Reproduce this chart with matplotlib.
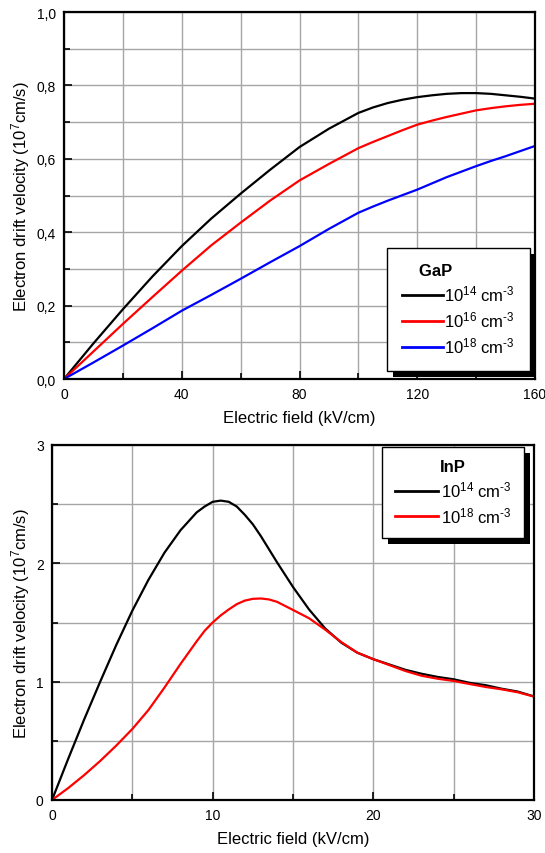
import matplotlib
matplotlib.use("Agg")
import matplotlib.pyplot as plt
from matplotlib.ticker import MultipleLocator, FuncFormatter
from matplotlib.patches import Rectangle
from matplotlib.transforms import IdentityTransform

plt.rcParams['font.family'] = ['Liberation Sans', 'DejaVu Sans']
plt.rcParams['mathtext.fontset'] = 'custom'
plt.rcParams['mathtext.rm'] = 'Liberation Sans'
plt.rcParams['mathtext.default'] = 'regular'

# GaP: drift velocity (1e7 cm/s) vs field (kV/cm)
gap_field = [0, 10, 20, 30, 40, 50, 60, 70, 80, 90, 100, 105, 110, 115, 120, 125,
             130, 135, 140, 145, 150, 155, 160]
gap_1e14 = [0, 0.097, 0.190, 0.279, 0.362, 0.437, 0.505, 0.570, 0.632, 0.682,
            0.725, 0.740, 0.752, 0.761, 0.768, 0.773, 0.777, 0.779, 0.779, 0.777,
            0.773, 0.769, 0.764]
gap_1e16 = [0, 0.075, 0.150, 0.223, 0.295, 0.364, 0.426, 0.486, 0.541, 0.586,
            0.629, 0.646, 0.662, 0.678, 0.693, 0.704, 0.714, 0.723, 0.732, 0.738,
            0.743, 0.747, 0.750]
gap_1e18 = [0, 0.045, 0.091, 0.138, 0.186, 0.229, 0.273, 0.318, 0.362, 0.409,
            0.453, 0.470, 0.486, 0.501, 0.516, 0.533, 0.550, 0.565, 0.580, 0.594,
            0.607, 0.621, 0.635]

# InP: drift velocity (1e7 cm/s) vs field (kV/cm)
inp_field = [0, 1, 2, 3, 4, 5, 6, 7, 8, 9, 9.5, 10, 10.5, 11, 11.5, 12, 12.5, 13,
             13.5, 14, 15, 16, 17, 18, 19, 20, 21, 22, 23, 24, 25, 26, 27, 28, 29, 30]
inp_1e14 = [0, 0.345, 0.68, 1.00, 1.31, 1.60, 1.86, 2.09, 2.28, 2.43, 2.48, 2.52,
            2.53, 2.52, 2.48, 2.41, 2.33, 2.23, 2.12, 2.01, 1.80, 1.61, 1.45, 1.33,
            1.245, 1.19, 1.145, 1.10, 1.067, 1.04, 1.02, 0.99, 0.97, 0.94, 0.916, 0.875]
inp_1e18 = [0, 0.10, 0.21, 0.33, 0.46, 0.60, 0.76, 0.95, 1.15, 1.34, 1.43, 1.50,
            1.56, 1.61, 1.655, 1.685, 1.700, 1.703, 1.695, 1.675, 1.606, 1.536, 1.44,
            1.335, 1.245, 1.19, 1.14, 1.09, 1.05, 1.025, 1.006, 0.98, 0.955, 0.935,
            0.91, 0.874]

W, H = 545, 854
fig = plt.figure(figsize=(W / 100, H / 100), dpi=100)


def px_axes(left, top, right, bottom):
    return fig.add_axes([left / W, 1 - bottom / H, (right - left) / W, (bottom - top) / H])


def style(ax):
    for s in ax.spines.values():
        s.set_linewidth(1.6)
        s.set_color('black')
    ax.tick_params(which='both', direction='in', labelsize=10, width=1.2)
    ax.tick_params(which='major', length=6, pad=6)
    ax.tick_params(which='minor', length=4)
    ax.grid(True, which='both', color='#a6a6a6', linewidth=1.0)
    ax.set_axisbelow(True)


comma = FuncFormatter(lambda v, p: f"{v:.1f}".replace('.', ','))
ylabel = r'Electron drift velocity (10$^{7}$cm/s)'
xlabel = 'Electric field (kV/cm)'


def conc(p):
    return r'10$^{%d}$ cm$^{\text{-3}}$' % p


def legend_kw(pad, hlen, htpad, spacing):
    return dict(loc='upper left', borderaxespad=0, fontsize=12,
                title_fontproperties={'weight': 'bold', 'size': 12},
                frameon=True, fancybox=False, edgecolor='black', framealpha=1,
                handlelength=hlen, handletextpad=htpad, borderpad=pad,
                labelspacing=spacing)


# --- GaP panel ---
ax1 = px_axes(64, 13, 535, 380)
ax1.plot(gap_field, gap_1e14, color='black', lw=1.6, label=conc(14))
ax1.plot(gap_field, gap_1e16, color='#ff0000', lw=1.6, label=conc(16))
ax1.plot(gap_field, gap_1e18, color='#0000ff', lw=1.6, label=conc(18))
ax1.set_xlim(0, 160)
ax1.set_ylim(0, 1.0)
ax1.xaxis.set_major_locator(MultipleLocator(40))
ax1.xaxis.set_minor_locator(MultipleLocator(20))
ax1.yaxis.set_major_locator(MultipleLocator(0.2))
ax1.yaxis.set_minor_locator(MultipleLocator(0.1))
ax1.yaxis.set_major_formatter(comma)
style(ax1)
ax1.set_xlabel(xlabel, fontsize=12, labelpad=6)
ax1.set_ylabel(ylabel, fontsize=12, labelpad=3)
# title padded on the right so it sits left of centre
leg1 = ax1.legend(title='GaP' + ' ' * 10, **legend_kw(0.9, 2.45, 0.1, 0.36))

# --- InP panel ---
ax2 = px_axes(52, 446, 534, 801)
ax2.plot(inp_field, inp_1e14, color='black', lw=1.6, label=conc(14))
ax2.plot(inp_field, inp_1e18, color='#ff0000', lw=1.6, label=conc(18))
ax2.set_xlim(0, 30)
ax2.set_ylim(0, 3)
ax2.xaxis.set_major_locator(MultipleLocator(10))
ax2.xaxis.set_minor_locator(MultipleLocator(5))
ax2.yaxis.set_major_locator(MultipleLocator(1))
ax2.yaxis.set_minor_locator(MultipleLocator(0.5))
style(ax2)
ax2.set_xlabel(xlabel, fontsize=12, labelpad=6)
ax2.set_ylabel(ylabel, fontsize=12, labelpad=3)
leg2 = ax2.legend(title='InP', **legend_kw(0.75, 2.6, 0.2, 0.33))


def place_legend(leg, left_px, top_px):
    # put the legend's upper-left corner at a figure pixel location
    leg.set_bbox_to_anchor((left_px, H - top_px), transform=IdentityTransform())
    leg.get_frame().set_linewidth(1.0)
    for line in leg.get_lines():
        line.set_linewidth(2.0)


place_legend(leg1, 387, 249)
place_legend(leg2, 382, 448)
fig.canvas.draw()

# solid drop shadows behind each legend box
for ax, leg, off in ((ax1, leg1, 6), (ax2, leg2, 6)):
    bb = leg.get_window_extent()
    shadow = Rectangle((bb.x0 + off, bb.y0 - off), bb.width, bb.height,
                       transform=IdentityTransform(), facecolor='black',
                       edgecolor='none', zorder=4.5)
    ax.add_artist(shadow)
    shadow.set_clip_on(False)
    leg.set_zorder(5)

fig.savefig('out.png', dpi=100)
